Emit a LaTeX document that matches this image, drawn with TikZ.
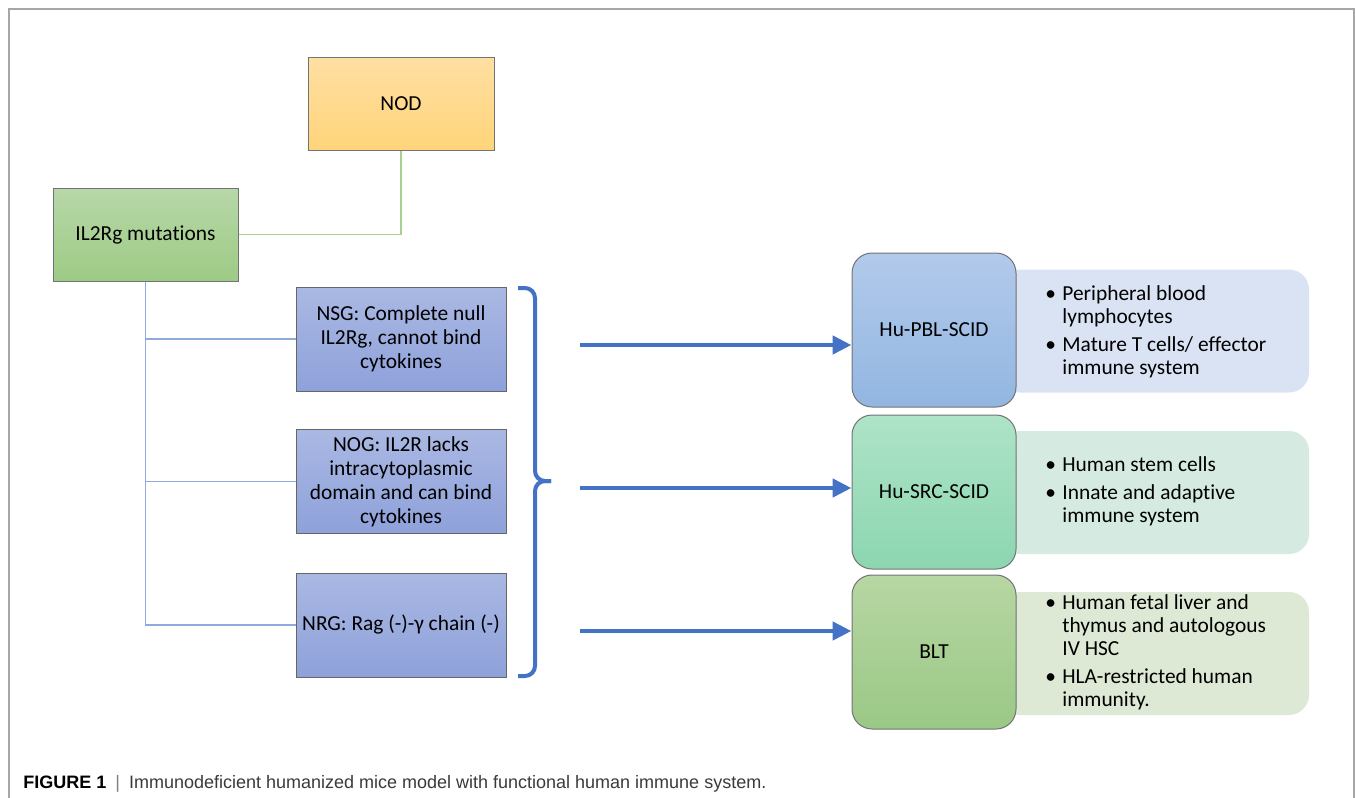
\documentclass[tikz,border=0pt]{standalone}
\usepackage{fontspec}
\setmainfont{Carlito}[Ligatures=NoCommon]
\newfontfamily\capfont{Liberation Sans}
\usetikzlibrary{arrows.meta}

\definecolor{framegray}{HTML}{A6A6A6}
\definecolor{nodtop}{HTML}{FFDFA2}
\definecolor{nodbot}{HTML}{FFD47A}
\definecolor{muttop}{HTML}{B7D7A8}
\definecolor{mutbot}{HTML}{9DCB85}
\definecolor{strtop}{HTML}{AAB8E3}
\definecolor{strbot}{HTML}{8EA1DA}
\definecolor{pbltop}{HTML}{B2CAEB}
\definecolor{pblbot}{HTML}{92B6E1}
\definecolor{srctop}{HTML}{AEE3C8}
\definecolor{srcbot}{HTML}{8CD6B0}
\definecolor{blttop}{HTML}{B7D6A3}
\definecolor{bltbot}{HTML}{9AC886}
\definecolor{pblinfo}{HTML}{DAE3F3}
\definecolor{srcinfo}{HTML}{D5EBE1}
\definecolor{bltinfo}{HTML}{DDE8D5}
\definecolor{darkblue}{HTML}{4472C4}
\definecolor{treeblue}{HTML}{8FAADC}
\definecolor{treegreen}{HTML}{A9D18E}
\definecolor{capbar}{HTML}{808080}
\definecolor{captext}{HTML}{3A3A3A}

\tikzset{
  boxtext/.style={font=\fontsize{10.7}{12}\selectfont, align=center},
  squarebox/.style={boxtext, draw=#1, line width=0.5pt, inner sep=2pt},
  modelbox/.style={boxtext, draw=#1, line width=0.5pt, rounded corners=10pt,
    minimum width=82pt, minimum height=77pt},
  infobox/.style={fill=#1, rounded corners=10pt, minimum width=154.5pt, minimum height=61.5pt},
  infotext/.style={font=\fontsize{10.7}{11.5}\selectfont, align=left, inner sep=0pt, anchor=west},
  bigarrow/.style={darkblue, line width=2.3pt, -{Triangle[length=9.5pt,width=9pt]}},
}

\newcommand{\bul}{\makebox[8.5pt][l]{\textbullet}}
\newcommand{\ind}{\hspace*{8.5pt}}

\begin{document}
\begin{tikzpicture}[x=0.5pt, y=-0.5pt]
\useasboundingbox (0,0) rectangle (1355,798);
\draw[framegray, line width=0.8pt] (9,820) -- (9,9) -- (1354,9) -- (1354,820);

% left part
\draw (401,103.5) node [squarebox=black!55, top color=nodtop, bottom color=nodbot,
  minimum width=93pt, minimum height=46.5pt] (nod) {NOD};
\draw (145.5,234.5) node [squarebox=black!55, top color=muttop, bottom color=mutbot,
  minimum width=92.5pt, minimum height=46.5pt] (mut) {IL2Rg mutations};
\draw (401,339) node [squarebox=black!60, top color=strtop, bottom color=strbot,
  minimum width=105pt, minimum height=52pt] (nsg) {NSG: Complete null\\IL2Rg, cannot bind\\cytokines};
\draw (401,481.5) node [squarebox=black!60, top color=strtop, bottom color=strbot,
  minimum width=105pt, minimum height=52pt] (nog) {NOG: IL2R lacks\\intracytoplasmic\\domain and can bind\\cytokines};
\draw (401,625) node [squarebox=black!60, top color=strtop, bottom color=strbot,
  minimum width=105pt, minimum height=52pt] (nrg) {NRG: Rag (-)-γ chain (-)};

\draw [treegreen, line width=0.8pt] (mut.east) -| (nod.south);
\draw [treeblue, line width=0.8pt] (mut.south) |- (nrg.west);
\draw [treeblue, line width=0.8pt] (mut.south |- nsg.west) -- (nsg.west);
\draw [treeblue, line width=0.8pt] (mut.south |- nog.west) -- (nog.west);

% brace
\draw [darkblue, line width=2pt, rounded corners=5pt] (518,288) -| (535,481) -- (551,481);
\draw [darkblue, line width=2pt, rounded corners=5pt] (518,676) -| (535,481) -- (551,481);

% right part
\draw (1154.5,331) node [infobox=pblinfo] (pblbg) {};
\draw (1154.5,492.5) node [infobox=srcinfo] (srcbg) {};
\draw (1154.5,653.5) node [infobox=bltinfo] (bltbg) {};

\draw (934,330) node [modelbox=black!55, top color=pbltop, bottom color=pblbot] (pbl) {Hu-PBL-SCID};
\draw (934,492) node [modelbox=black!55, top color=srctop, bottom color=srcbot] (src) {Hu-SRC-SCID};
\draw (934,652) node [modelbox=black!55, top color=blttop, bottom color=bltbot] (blt) {BLT};

\draw (1045,332) node [infotext] (pbltext)
  {\bul Peripheral blood\\\ind lymphocytes\\[2.5pt]\bul Mature T cells/ effector\\\ind immune system};
\draw (1045,491) node [infotext] (srctext)
  {\bul Human stem cells\\[2.5pt]\bul Innate and adaptive\\\ind immune system};
\draw (1045,652) node [infotext] (blttext)
  {\bul Human fetal liver and\\\ind thymus and autologous\\\ind IV HSC\\[2.5pt]\bul HLA-restricted human\\\ind immunity.};

\coordinate (a1) at (580,345);
\coordinate (a2) at (580,488);
\coordinate (a3) at (580,631);
\draw [bigarrow] (a1) -- (a1 -| pbl.west);
\draw [bigarrow] (a2) -- (a2 -| src.west);
\draw [bigarrow] (a3) -- (a3 -| blt.west);

% caption
\draw (23,788) node [anchor=base west, inner sep=0pt,
  font=\capfont\fontsize{9}{11}\selectfont] (caption)
  {\textbf{FIGURE 1}\enspace{\color{capbar}|}\enspace\textcolor{captext}{Immunodeficient humanized mice model with functional human immune system.}};
\end{tikzpicture}
\end{document}
